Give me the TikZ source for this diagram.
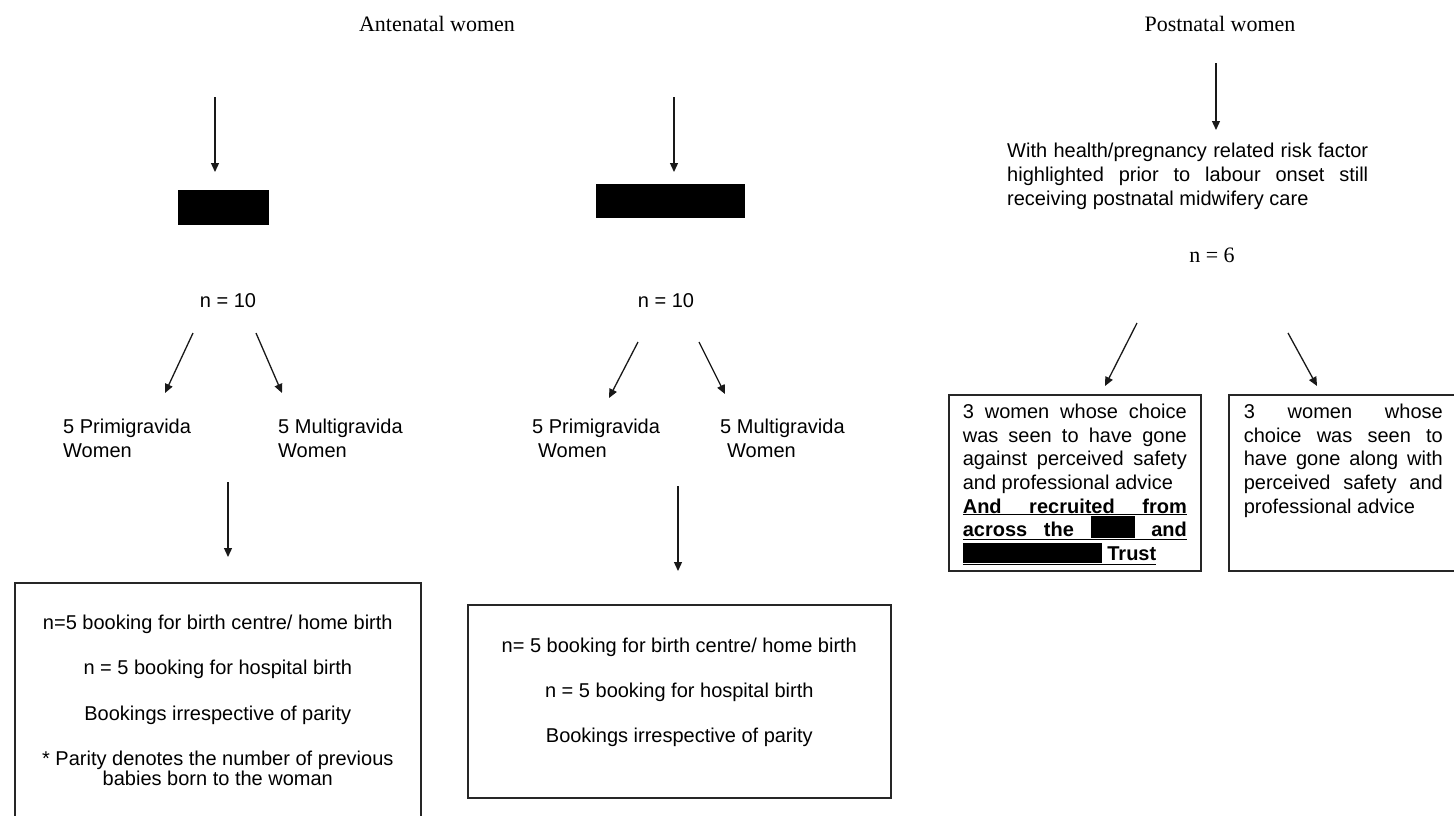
\documentclass[tikz,border=0pt]{standalone}
\usepackage{fontspec}
\setmainfont{Liberation Serif}
\setsansfont{Liberation Sans}
\usetikzlibrary{arrows.meta}
\hbadness=10000
\hyphenpenalty=10000
\newcommand\boxfont{\sffamily\fontsize{20}{23.7}\selectfont\tolerance=9999\relax}
% a full-width, space-stretched, underlined line
\newcommand\ulline[2]{\underline{\makebox[#1][s]{#2}}}

\begin{document}
\begin{tikzpicture}[x=1pt,y=-1pt,
  lbl/.style={font=\sffamily\fontsize{20}{24}\selectfont, inner sep=0pt},
  ttl/.style={font=\rmfamily\fontsize{22}{26}\selectfont, inner sep=0pt},
  arr/.style={draw=black!90, line width=1.3pt, -{Triangle[length=9pt,width=8pt]}},
  frame/.style={draw=black!85, line width=1.6pt, anchor=north west, inner sep=0pt},
  redact/.style={fill=black, draw=none, inner sep=0pt, anchor=north west},
]
\useasboundingbox (0,0) rectangle (1454,815);
\clip (0,0) rectangle (1454,815);

% column titles
\node[ttl] (ante) at (437,24) {Antenatal women};
\node[ttl] (post) at (1220,24) {Postnatal women};

% ---------- antenatal, left branch ----------
\coordinate (la1) at (215,97);  \coordinate (la2) at (215,172);
\draw[arr] (la1) -- (la2);
\node[redact, minimum width=91pt, minimum height=35pt] (redL) at (178,190) {};
\node[lbl] (nL) at (228,301) {n = 10};
\coordinate (lb1) at (193,333); \coordinate (lb2) at (165,393);
\coordinate (lc1) at (256,333); \coordinate (lc2) at (282,393);
\draw[arr] (lb1) -- (lb2);
\draw[arr] (lc1) -- (lc2);
\node[lbl, align=left, anchor=north west] (primL) at (63,419) {5 Primigravida\\Women};
\node[lbl, align=left, anchor=north west] (multL) at (278,419) {5 Multigravida\\Women};
\coordinate (ld1) at (228,482); \coordinate (ld2) at (228,557);
\draw[arr] (ld1) -- (ld2);
\node[frame] (boxL) at (14,582) {\parbox[t][262pt][t]{406pt}{\sffamily\fontsize{20}{24}\selectfont\centering
  \vspace*{32pt}n=5 booking for birth centre/ home birth\\[21.5pt]
  n = 5 booking for hospital birth\\[21.5pt]
  Bookings irrespective of parity\\[21.5pt]
  * Parity denotes the number of previous\\[-4pt]
  babies born to the woman}};

% ---------- antenatal, middle branch ----------
\coordinate (ma1) at (674,97);  \coordinate (ma2) at (674,172);
\draw[arr] (ma1) -- (ma2);
\node[redact, minimum width=149pt, minimum height=34pt] (redM) at (596,184) {};
\node[lbl] (nM) at (666,301) {n = 10};
\coordinate (mb1) at (638,342); \coordinate (mb2) at (609,398);
\coordinate (mc1) at (699,342); \coordinate (mc2) at (725,394);
\draw[arr] (mb1) -- (mb2);
\draw[arr] (mc1) -- (mc2);
\node[lbl, align=left, anchor=north west] (primM) at (532,419) {5 Primigravida\\\hspace*{6pt}Women};
\node[lbl, align=left, anchor=north west] (multM) at (720,419) {5 Multigravida\\\hspace*{7pt}Women};
\coordinate (md1) at (678,486); \coordinate (md2) at (678,571);
\draw[arr] (md1) -- (md2);
\node[frame] (boxM) at (467,604) {\parbox[t][193pt][t]{423pt}{\sffamily\fontsize{20}{24}\selectfont\centering
  \vspace*{33pt}n= 5 booking for birth centre/ home birth\\[21pt]
  n = 5 booking for hospital birth\\[21pt]
  Bookings irrespective of parity}};

% ---------- postnatal ----------
\coordinate (pa1) at (1216,63); \coordinate (pa2) at (1216,130);
\draw[arr] (pa1) -- (pa2);
\node[font=\boxfont, inner sep=0pt, anchor=north west, text width=361pt, align=justify] (risk) at (1007,143)
  {With health/pregnancy related risk factor\linebreak
   highlighted prior to labour onset still\linebreak
   receiving postnatal midwifery care};
\node[ttl] (n6) at (1212,255) {n = 6};
\coordinate (pb1) at (1137,323); \coordinate (pb2) at (1105,386);
\coordinate (pc1) at (1288,333); \coordinate (pc2) at (1317,386);
\draw[arr] (pb1) -- (pb2);
\draw[arr] (pc1) -- (pc2);

\node[frame, inner xsep=14pt] (boxA) at (948,394) {\parbox[t][176pt][t]{224pt}{\boxfont
  \vspace*{9pt}3 women whose choice\linebreak
  was seen to have gone\linebreak
  against perceived safety\linebreak
  and professional advice\\
  \bfseries\ulline{224pt}{And recruited from}\\
  \ulline{224pt}{across the \rule[-1pt]{44pt}{22pt} and}\\
  \underline{\rule[-2pt]{139pt}{20pt} Trust}}};

\node[frame, inner xsep=15pt] (boxB) at (1228,394) {\parbox[t][176pt][t]{199pt}{\boxfont
  \vspace*{9pt}3 women whose\linebreak
  choice was seen to\linebreak
  have gone along with\linebreak
  perceived safety and\linebreak
  professional advice}};
\end{tikzpicture}
\end{document}
